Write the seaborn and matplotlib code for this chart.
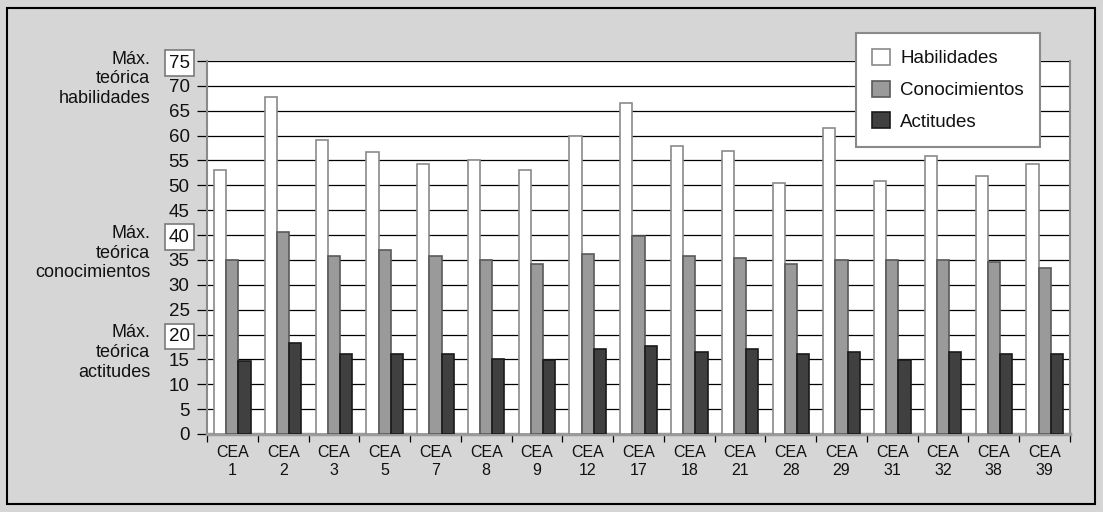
import matplotlib
matplotlib.use("Agg")
import matplotlib.pyplot as plt
import matplotlib.patches as mpatches
import seaborn as sns
import pandas as pd
import numpy as np

categories = ["CEA\n1", "CEA\n2", "CEA\n3", "CEA\n5", "CEA\n7", "CEA\n8", "CEA\n9", "CEA\n12",
              "CEA\n17", "CEA\n18", "CEA\n21", "CEA\n28", "CEA\n29", "CEA\n31", "CEA\n32",
              "CEA\n38", "CEA\n39"]
habilidades = [53.0, 67.7, 59.1, 56.7, 54.2, 55.0, 53.0, 59.9, 66.5, 57.9, 57.0, 50.4,
               61.5, 50.9, 55.8, 51.8, 54.2]
conocimientos = [35.0, 40.6, 35.8, 37.0, 35.8, 35.0, 34.2, 36.2, 39.9, 35.8, 35.4, 34.2,
                 35.0, 35.0, 35.0, 34.6, 33.4]
actitudes = [14.6, 18.2, 16.1, 16.1, 16.1, 15.0, 14.9, 17.0, 17.7, 16.5, 17.0, 16.1,
             16.5, 14.9, 16.5, 16.1, 16.1]
series_names = ["Habilidades", "Conocimientos", "Actitudes"]
yticks = list(range(0, 80, 5))
boxed_ticks = [75, 40, 20]
side_labels = {75: "Máx.\nteórica\nhabilidades", 40: "Máx.\nteórica\nconocimientos",
               20: "Máx.\nteórica\nactitudes"}

df = pd.DataFrame({
    "cat": categories * 3,
    "serie": [series_names[0]] * len(categories) + [series_names[1]] * len(categories)
             + [series_names[2]] * len(categories),
    "val": habilidades + conocimientos + actitudes,
})

plt.rcParams["font.family"] = ["Liberation Sans", "DejaVu Sans"]
BG = "#d6d6d6"
fills = ["#ffffff", "#9a9a9a", "#404040"]
edges = ["#8a8a8a", "#5a5a5a", "#1a1a1a"]

fig = plt.figure(figsize=(11.03, 5.12), dpi=100, facecolor=BG)
ax = fig.add_axes([207/1103, 1 - 434/512, (1070-207)/1103, (434-61)/512])
ax.set_facecolor("white")

sns.barplot(data=df, x="cat", y="val", hue="serie", order=categories,
            hue_order=series_names, palette=fills, width=0.72, ax=ax,
            legend=False, saturation=1)
for cont, ec in zip(ax.containers, edges):
    for p in cont.patches:
        p.set_edgecolor(ec)
        p.set_linewidth(1.2)
        p.set_zorder(3)

ax.set_xlim(-0.5, len(categories) - 0.5)
ax.set_ylim(0, 75)
ax.set_yticks(yticks)
ax.set_yticklabels([str(t) for t in yticks], fontsize=13.5)
ax.yaxis.grid(True, color="black", linewidth=0.9, zorder=0)
ax.xaxis.grid(False)
ax.set_axisbelow(True)
ax.tick_params(axis="y", direction="out", length=7.5, width=0.9, color="black", pad=5,
               labelcolor="#111111")
ax.set_xlabel("")
ax.set_ylabel("")
ax.set_xticks(range(len(categories)))
ax.set_xticklabels(categories, fontsize=11.5, linespacing=1.2, color="#111111")
ax.tick_params(axis="x", which="major", length=0, pad=8)
ax.set_xticks(np.arange(-0.5, len(categories), 1.0), minor=True)
ax.tick_params(axis="x", which="minor", direction="out", length=6, width=0.9, color="black")

ax.spines["top"].set_visible(False)
ax.spines["left"].set_color("#8a8a8a")
ax.spines["left"].set_linewidth(1.5)
ax.spines["right"].set_color("#8a8a8a")
ax.spines["right"].set_linewidth(1.5)
ax.spines["bottom"].set_color("#9a9a9a")
ax.spines["bottom"].set_linewidth(2.5)

for lbl, t in zip(ax.get_yticklabels(), yticks):
    if t in boxed_ticks:
        lbl.set_bbox(dict(boxstyle="square,pad=0.22", fc="white", ec="#7a7a7a", lw=1.2))

for val, txt in side_labels.items():
    ax.annotate(txt, xy=(0, val), xycoords=("axes fraction", "data"),
                xytext=(-41, 7.5), textcoords="offset points", ha="right", va="top",
                fontsize=13, linespacing=1.22, color="#111111")

handles = [mpatches.Patch(facecolor=f, edgecolor=e, linewidth=1.2, label=n)
           for f, e, n in zip(fills, edges, series_names)]
leg = ax.legend(handles=handles, loc="upper left", bbox_to_anchor=(856/1103, 1 - 33/512),
                bbox_transform=fig.transFigure, frameon=True, fancybox=False,
                edgecolor="#8a8a8a", framealpha=1, fontsize=13.5, handlelength=0.95,
                handleheight=0.95, handletextpad=0.55, labelspacing=0.7, borderpad=0.85,
                borderaxespad=0)
leg.get_frame().set_linewidth(1.5)
for t in leg.get_texts():
    t.set_color("#111111")

fig.patches.append(mpatches.Rectangle((7/1103, 1 - 504/512), (1095-7)/1103, (504-8)/512,
                                      transform=fig.transFigure, fill=False,
                                      edgecolor="black", linewidth=1.5))

fig.savefig("out.png", dpi=100, facecolor=BG)
